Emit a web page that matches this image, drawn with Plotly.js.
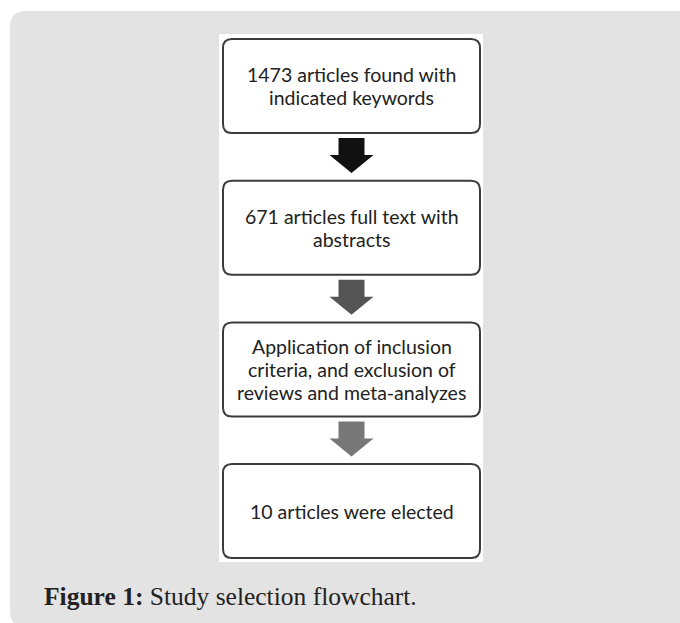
<!DOCTYPE html>
<html>
<head>
<meta charset="utf-8">
<script src="https://cdn.plot.ly/plotly-3.0.1.min.js"></script>
<style>
html,body{margin:0;padding:0;background:#fff;}
#chart{width:680px;height:623px;}
</style>
</head>
<body>
<div id="chart"></div>
<script>
// ---- data ----
const stepLabels = [
  "1473 articles found with<br>indicated keywords",
  "671 articles full text with<br>abstracts",
  "Application of inclusion<br>criteria, and exclusion of<br>reviews and meta-analyzes",
  "10 articles were elected"
];
const stepIndex = [0, 1, 2, 3];
const arrowColors = ["#111111", "#555555", "#777777"];
const captionBold = "Figure 1:";
const captionText = " Study selection flowchart.";

// ---- layout geometry (in axis units = pixels) ----
const W = 680, H = 623;
const boxX0 = 223, boxX1 = 480, boxTop0 = 39, boxH = 94, pitch = 141.7, r = 9;
const cx = 351.5, lineGap = 23;

function roundRect(x0, y0, x1, y1, rad) {
  return `M${x0+rad},${y0} L${x1-rad},${y0} Q${x1},${y0} ${x1},${y0+rad} ` +
         `L${x1},${y1-rad} Q${x1},${y1} ${x1-rad},${y1} L${x0+rad},${y1} ` +
         `Q${x0},${y1} ${x0},${y1-rad} L${x0},${y0+rad} Q${x0},${y0} ${x0+rad},${y0} Z`;
}

const shapes = [];
// grey panel
shapes.push({type:'path', xref:'x', yref:'y', path: roundRect(10, 11, 720, 627, 16),
  fillcolor:'#e3e3e3', line:{width:0}, layer:'below'});
// white image background
shapes.push({type:'rect', xref:'x', yref:'y', x0:219, x1:483, y0:34, y1:562,
  fillcolor:'#ffffff', line:{width:0}, layer:'below'});

const annotations = [];
stepIndex.forEach((i) => {
  const y0 = boxTop0 + i * pitch, y1 = y0 + boxH;
  shapes.push({type:'path', xref:'x', yref:'y', path: roundRect(boxX0, y0, boxX1, y1, r),
    fillcolor:'#ffffff', line:{color:'#3c3c3c', width:2}});
  const lines = stepLabels[i].split('<br>');
  const mid = (y0 + y1) / 2;
  lines.forEach((ln, k) => {
    annotations.push({xref:'x', yref:'y', x:cx,
      y: mid + (k - (lines.length - 1) / 2) * lineGap, text: ln,
      showarrow:false, xanchor:'center', yanchor:'middle',
      font:{family:'Lato, sans-serif', size:19.5, color:'#222222'}});
  });
  if (i < arrowColors.length) {
    const a0 = y1 + 5, h0 = y1 + 22, tip = y1 + 40;
    const sw = 13, hw = 22;
    shapes.push({type:'path', xref:'x', yref:'y',
      path:`M${cx-sw},${a0} L${cx+sw},${a0} L${cx+sw},${h0} L${cx+hw},${h0} L${cx},${tip} L${cx-hw},${h0} L${cx-sw},${h0} Z`,
      fillcolor: arrowColors[i], line:{width:0}});
  }
});

annotations.push({xref:'x', yref:'y', x:42, y:596,
  text:`<b>${captionBold}</b>${captionText}`, showarrow:false,
  xanchor:'left', yanchor:'middle',
  font:{family:'"Liberation Serif", serif', size:25.5, color:'#222222'}});

const layout = {
  width: W, height: H,
  margin:{l:0, r:0, t:0, b:0},
  paper_bgcolor:'#ffffff', plot_bgcolor:'#ffffff',
  xaxis:{range:[0, W], visible:false, fixedrange:true},
  yaxis:{range:[H, 0], visible:false, fixedrange:true},
  shapes: shapes,
  annotations: annotations,
  showlegend:false
};

Plotly.newPlot('chart', [{x:[], y:[], type:'scatter', mode:'markers', hoverinfo:'skip'}], layout, {staticPlot:true, displayModeBar:false});
</script>
</body>
</html>
